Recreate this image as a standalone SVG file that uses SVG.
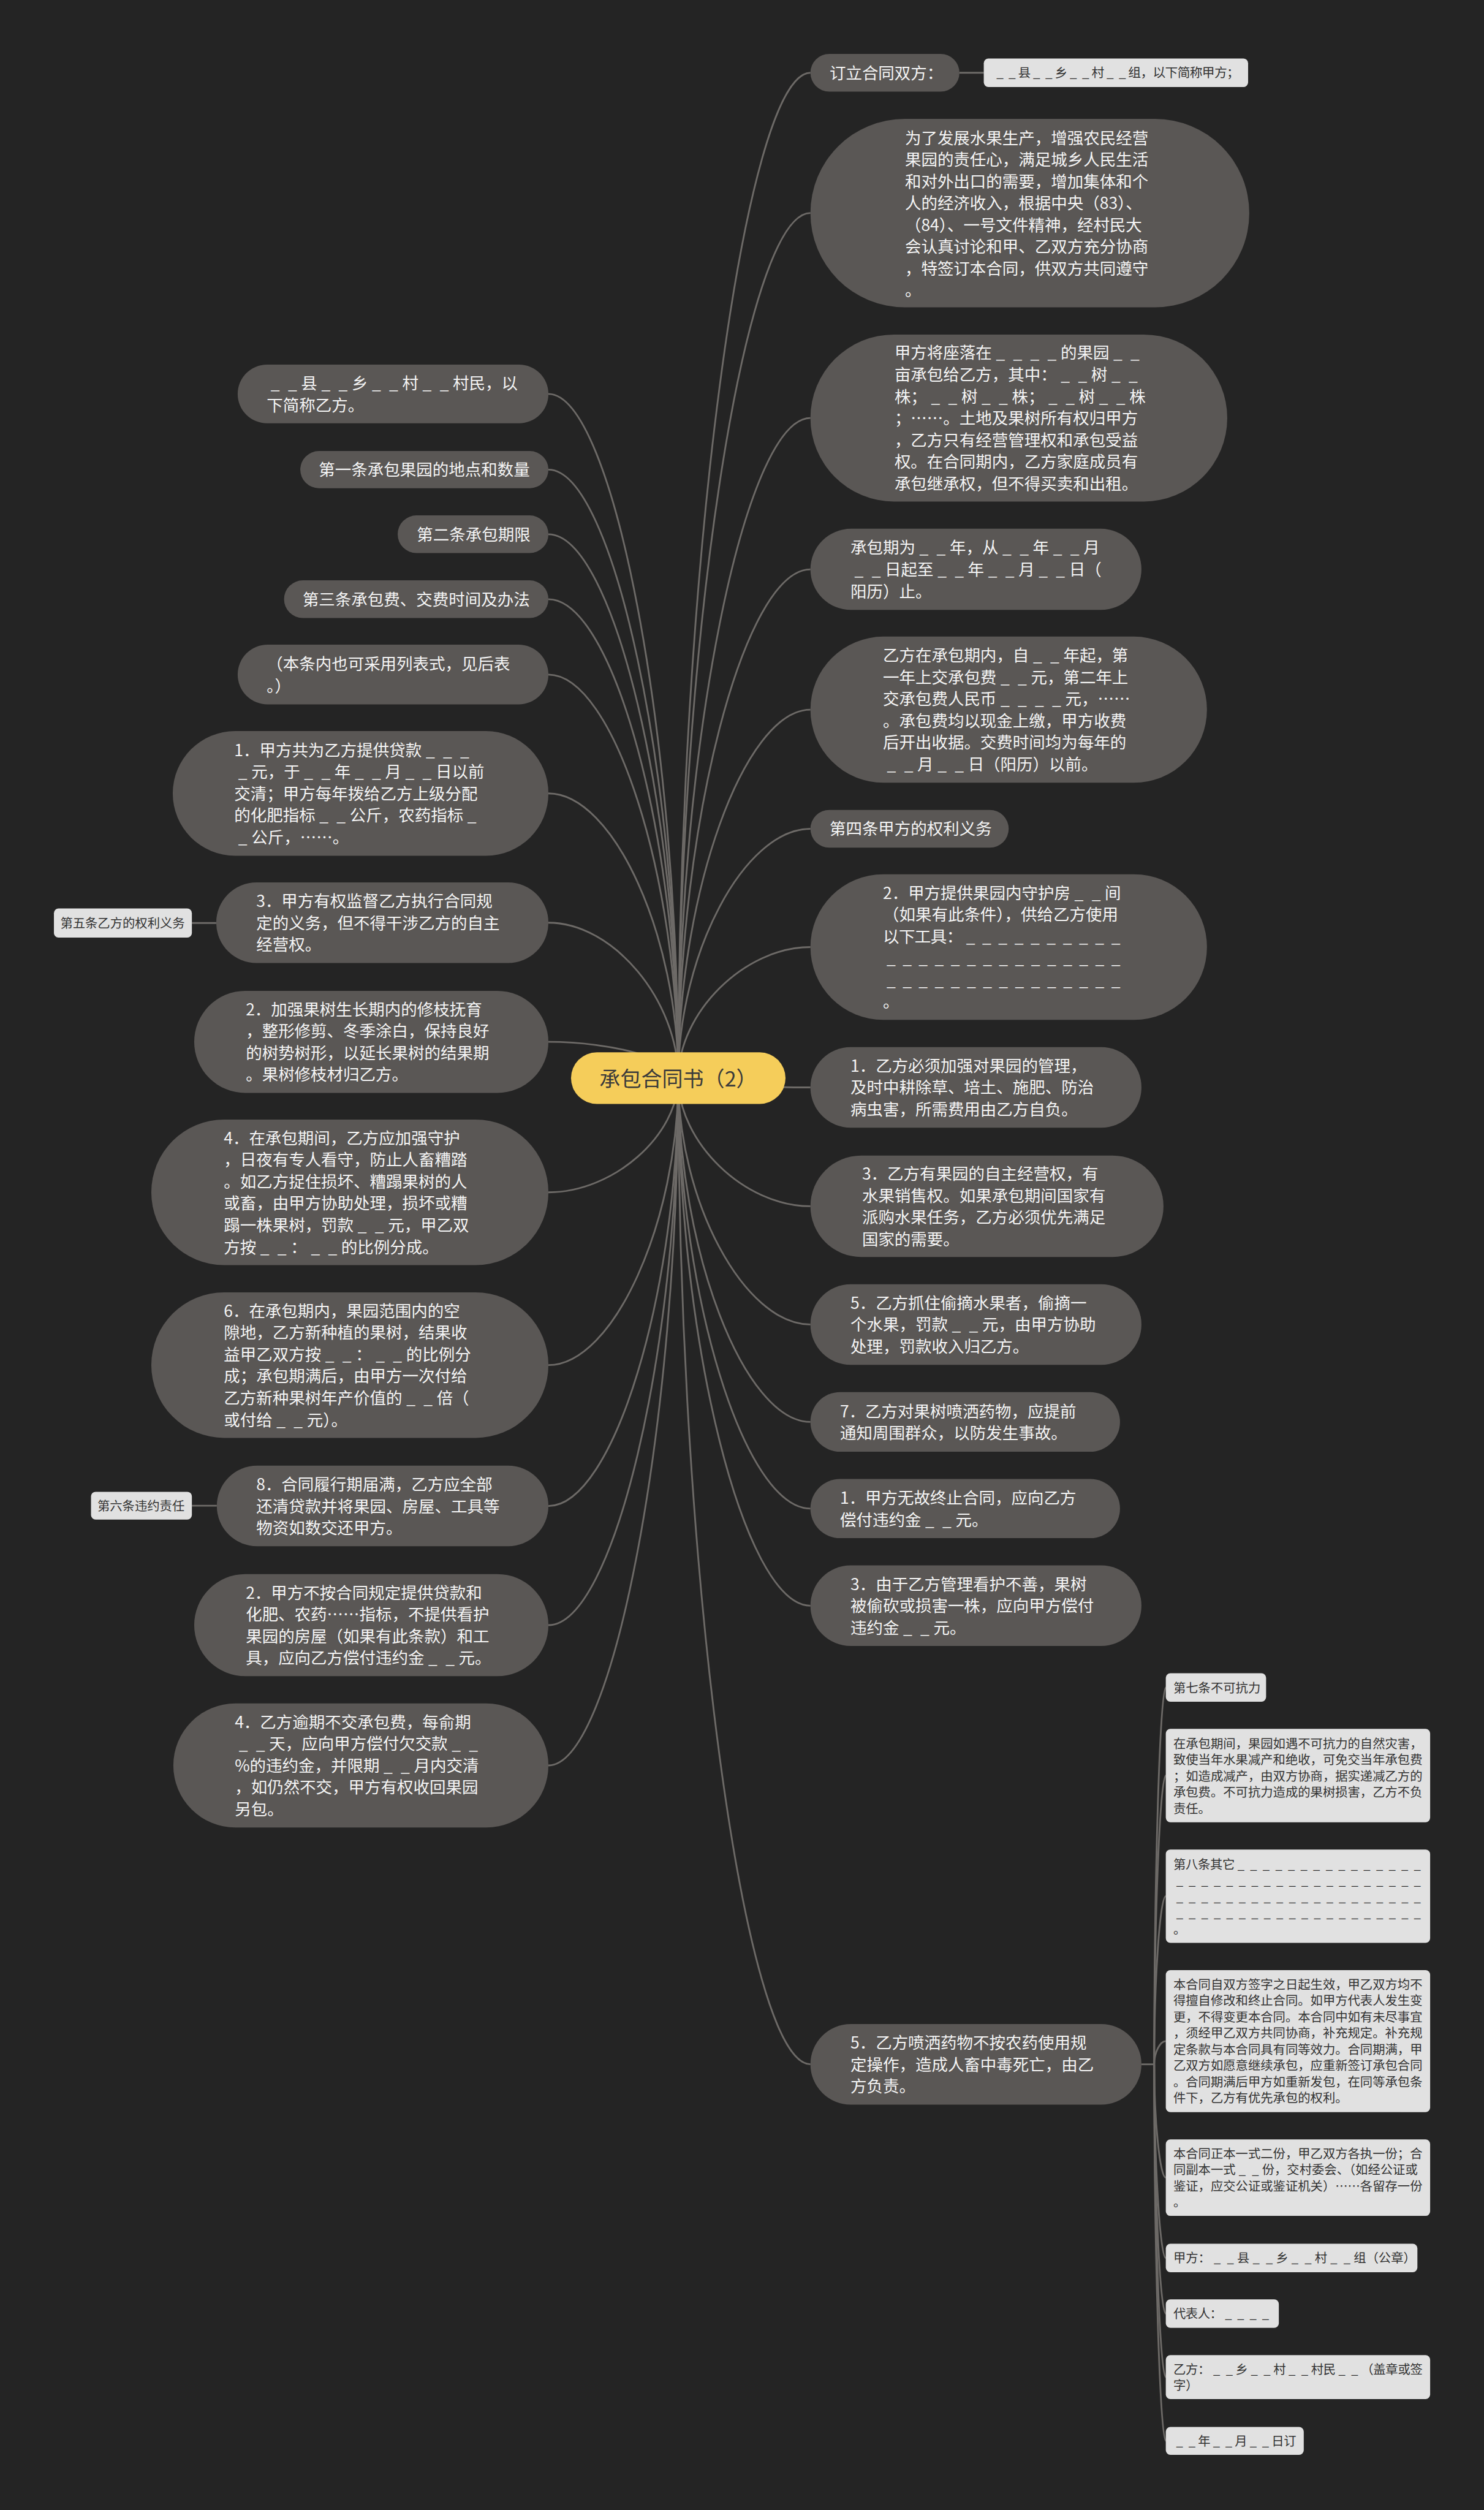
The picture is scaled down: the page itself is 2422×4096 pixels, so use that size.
<svg xmlns="http://www.w3.org/2000/svg" width="2422" height="4096" viewBox="0 0 2422 4096">
<style>
text{font-family:"Noto Sans CJK SC","Noto Sans",sans-serif}
.n rect{fill:#5a5755}
.n text{fill:#f4f4f4;font-size:28px}
.l rect{fill:#e1e1e1}
.l text{fill:#333333;font-size:21.5px}
.c rect{fill:#f5cd5a}
.c text{fill:#3a3a3a;font-size:36px}
#connectors path{fill:none;stroke:#6d6a67;stroke-width:3}
</style>
<rect width="2422" height="4096" fill="#242424"/>
<g transform="scale(0.94613)">
<g id="connectors">
<path d="M1170 1860C1170 992.8 1284 125.5 1398 125.5"/>
<path d="M1170 1860C1170 1113.8 1284 367.5 1398 367.5"/>
<path d="M1170 1860C1170 1290.5 1284 721 1398 721"/>
<path d="M1170 1860C1170 1421 1284 982 1398 982"/>
<path d="M1170 1860C1170 1542 1284 1224 1398 1224"/>
<path d="M1170 1860C1170 1644.8 1284 1429.5 1398 1429.5"/>
<path d="M1170 1860C1170 1746.8 1284 1633.5 1398 1633.5"/>
<path d="M1170 1860C1170 1867.8 1284 1875.5 1398 1875.5"/>
<path d="M1170 1860C1170 1970.3 1284 2080.5 1398 2080.5"/>
<path d="M1170 1860C1170 2072.3 1284 2284.5 1398 2284.5"/>
<path d="M1170 1860C1170 2156.3 1284 2452.5 1398 2452.5"/>
<path d="M1170 1860C1170 2231 1284 2602 1398 2602"/>
<path d="M1170 1860C1170 2314.8 1284 2769.5 1398 2769.5"/>
<path d="M1170 1860C1170 2710.3 1284 3560.5 1398 3560.5"/>
<path d="M1170 1860C1170 1269.8 1058 679.5 946 679.5"/>
<path d="M1170 1860C1170 1335 1058 810 946 810"/>
<path d="M1170 1860C1170 1390.8 1058 921.5 946 921.5"/>
<path d="M1170 1860C1170 1446.8 1058 1033.5 946 1033.5"/>
<path d="M1170 1860C1170 1511.8 1058 1163.5 946 1163.5"/>
<path d="M1170 1860C1170 1614.3 1058 1368.5 946 1368.5"/>
<path d="M1170 1860C1170 1725.8 1058 1591.5 946 1591.5"/>
<path d="M1170 1860C1170 1828.5 1058 1797 946 1797"/>
<path d="M1170 1860C1170 1958.3 1058 2056.5 946 2056.5"/>
<path d="M1170 1860C1170 2107.3 1058 2354.5 946 2354.5"/>
<path d="M1170 1860C1170 2228.8 1058 2597.5 946 2597.5"/>
<path d="M1170 1860C1170 2331.5 1058 2803 946 2803"/>
<path d="M1170 1860C1170 2452.5 1058 3045 946 3045"/>
<path d="M1655 125.5H1697"/>
<path d="M331 1592H373"/>
<path d="M331 2597H374"/>
<path d="M1969 3560.5H1991"/>
<path d="M1991 3560.5C1991 3235.5 2001 2910.5 2011 2910.5"/>
<path d="M1991 3560.5C1991 3311.5 2001 3062.5 2011 3062.5"/>
<path d="M1991 3560.5C1991 3415.5 2001 3270.5 2011 3270.5"/>
<path d="M1991 3560.5C1991 3540.5 2001 3520.5 2011 3520.5"/>
<path d="M1991 3560.5C1991 3658.3 2001 3756 2011 3756"/>
<path d="M1991 3560.5C1991 3727.5 2001 3894.5 2011 3894.5"/>
<path d="M1991 3560.5C1991 3775.5 2001 3990.5 2011 3990.5"/>
<path d="M1991 3560.5C1991 3830.3 2001 4100 2011 4100"/>
<path d="M1991 3560.5C1991 3885.3 2001 4210 2011 4210"/>
</g>

<g id="center" class="c">
<rect x="985" y="1815" width="370" height="89" rx="44.5"/>
<text x="1170" y="1873.7" text-anchor="middle">承包合同书（2）</text>
</g>

<g id="r1" class="n">
<rect x="1398" y="93" width="257" height="65" rx="32.5"/>
<text x="1431" y="136">订立合同双方：</text>
</g>
<g id="r1a" class="l">
<rect x="1697" y="101" width="456" height="49" rx="8"/>
<text x="1714" y="133.5" style="font-size:22px" textLength="424" lengthAdjust="spacing">&#x2005;_&#x2005;&#x2005;_&#x2005;县&#x2005;_&#x2005;&#x2005;_&#x2005;乡&#x2005;_&#x2005;&#x2005;_&#x2005;村&#x2005;_&#x2005;&#x2005;_&#x2005;组，以下简称甲方；</text>
</g>
<g id="r2" class="n">
<rect x="1398" y="205" width="757" height="325" rx="162.5"/>
<text>
<tspan x="1561" y="248">为了发展水果生产，增强农民经营</tspan>
<tspan x="1561" y="285.5">果园的责任心，满足城乡人民生活</tspan>
<tspan x="1561" y="323">和对外出口的需要，增加集体和个</tspan>
<tspan x="1561" y="360.5">人的经济收入，根据中央（83）、</tspan>
<tspan x="1561" y="398">（84）、一号文件精神，经村民大</tspan>
<tspan x="1561" y="435.5">会认真讨论和甲、乙双方充分协商</tspan>
<tspan x="1561" y="473">，特签订本合同，供双方共同遵守</tspan>
<tspan x="1561" y="510.5">。</tspan>
</text>
</g>
<g id="r3" class="n">
<rect x="1398" y="577" width="719" height="288" rx="144"/>
<text>
<tspan x="1543" y="618.7">甲方将座落在&#x2005;_&#x2005;&#x2005;_&#x2005;&#x2005;_&#x2005;&#x2005;_&#x2005;的果园&#x2005;_&#x2005;&#x2005;_&#x2005;</tspan>
<tspan x="1543" y="656.3">亩承包给乙方，其中：&#x2005;_&#x2005;&#x2005;_&#x2005;树&#x2005;_&#x2005;&#x2005;_&#x2005;</tspan>
<tspan x="1543" y="693.9">株；&#x2005;_&#x2005;&#x2005;_&#x2005;树&#x2005;_&#x2005;&#x2005;_&#x2005;株；&#x2005;_&#x2005;&#x2005;_&#x2005;树&#x2005;_&#x2005;&#x2005;_&#x2005;株</tspan>
<tspan x="1543" y="731.5">；……。土地及果树所有权归甲方</tspan>
<tspan x="1543" y="769.1">，乙方只有经营管理权和承包受益</tspan>
<tspan x="1543" y="806.7">权。在合同期内，乙方家庭成员有</tspan>
<tspan x="1543" y="844.3">承包继承权，但不得买卖和出租。</tspan>
</text>
</g>
<g id="r4" class="n">
<rect x="1398" y="912" width="571" height="140" rx="70"/>
<text>
<tspan x="1467" y="954.9">承包期为&#x2005;_&#x2005;&#x2005;_&#x2005;年，从&#x2005;_&#x2005;&#x2005;_&#x2005;年&#x2005;_&#x2005;&#x2005;_&#x2005;月</tspan>
<tspan x="1467" y="992.5">&#x2005;_&#x2005;&#x2005;_&#x2005;日起至&#x2005;_&#x2005;&#x2005;_&#x2005;年&#x2005;_&#x2005;&#x2005;_&#x2005;月&#x2005;_&#x2005;&#x2005;_&#x2005;日（</tspan>
<tspan x="1467" y="1030.1">阳历）止。</tspan>
</text>
</g>
<g id="r5" class="n">
<rect x="1398" y="1098" width="684" height="252" rx="126"/>
<text>
<tspan x="1523" y="1140.5">乙方在承包期内，自&#x2005;_&#x2005;&#x2005;_&#x2005;年起，第</tspan>
<tspan x="1523" y="1178.1">一年上交承包费&#x2005;_&#x2005;&#x2005;_&#x2005;元，第二年上</tspan>
<tspan x="1523" y="1215.7">交承包费人民币&#x2005;_&#x2005;&#x2005;_&#x2005;&#x2005;_&#x2005;&#x2005;_&#x2005;元，……</tspan>
<tspan x="1523" y="1253.3">。承包费均以现金上缴，甲方收费</tspan>
<tspan x="1523" y="1290.9">后开出收据。交费时间均为每年的</tspan>
<tspan x="1523" y="1328.5">&#x2005;_&#x2005;&#x2005;_&#x2005;月&#x2005;_&#x2005;&#x2005;_&#x2005;日（阳历）以前。</tspan>
</text>
</g>
<g id="r6" class="n">
<rect x="1398" y="1397" width="342" height="65" rx="32.5"/>
<text x="1431" y="1440">第四条甲方的权利义务</text>
</g>
<g id="r7" class="n">
<rect x="1398" y="1508" width="684" height="251" rx="125.5"/>
<text x="1523" y="1550">2．甲方提供果园内守护房&#x2005;_&#x2005;&#x2005;_&#x2005;间</text>
<text x="1523" y="1587.6">（如果有此条件），供给乙方使用</text>
<text x="1523" y="1625.2" textLength="416" lengthAdjust="spacing">以下工具：&#x2005;_&#x2005;&#x2005;_&#x2005;&#x2005;_&#x2005;&#x2005;_&#x2005;&#x2005;_&#x2005;&#x2005;_&#x2005;&#x2005;_&#x2005;&#x2005;_&#x2005;&#x2005;_&#x2005;&#x2005;_&#x2005;</text>
<text x="1523" y="1662.8" textLength="416" lengthAdjust="spacing">&#x2005;_&#x2005;&#x2005;_&#x2005;&#x2005;_&#x2005;&#x2005;_&#x2005;&#x2005;_&#x2005;&#x2005;_&#x2005;&#x2005;_&#x2005;&#x2005;_&#x2005;&#x2005;_&#x2005;&#x2005;_&#x2005;&#x2005;_&#x2005;&#x2005;_&#x2005;&#x2005;_&#x2005;&#x2005;_&#x2005;&#x2005;_&#x2005;</text>
<text x="1523" y="1700.4" textLength="416" lengthAdjust="spacing">&#x2005;_&#x2005;&#x2005;_&#x2005;&#x2005;_&#x2005;&#x2005;_&#x2005;&#x2005;_&#x2005;&#x2005;_&#x2005;&#x2005;_&#x2005;&#x2005;_&#x2005;&#x2005;_&#x2005;&#x2005;_&#x2005;&#x2005;_&#x2005;&#x2005;_&#x2005;&#x2005;_&#x2005;&#x2005;_&#x2005;&#x2005;_&#x2005;</text>
<text x="1523" y="1738">。</text>
</g>
<g id="r8" class="n">
<rect x="1398" y="1806" width="571" height="139" rx="69.5"/>
<text>
<tspan x="1467" y="1848.4">1．乙方必须加强对果园的管理，</tspan>
<tspan x="1467" y="1886">及时中耕除草、培土、施肥、防治</tspan>
<tspan x="1467" y="1923.6">病虫害，所需费用由乙方自负。</tspan>
</text>
</g>
<g id="r9" class="n">
<rect x="1398" y="1993" width="609" height="175" rx="87.5"/>
<text>
<tspan x="1487" y="2034.6">3．乙方有果园的自主经营权，有</tspan>
<tspan x="1487" y="2072.2">水果销售权。如果承包期间国家有</tspan>
<tspan x="1487" y="2109.8">派购水果任务，乙方必须优先满足</tspan>
<tspan x="1487" y="2147.4">国家的需要。</tspan>
</text>
</g>
<g id="r10" class="n">
<rect x="1398" y="2215" width="571" height="139" rx="69.5"/>
<text>
<tspan x="1467" y="2257.4">5．乙方抓住偷摘水果者，偷摘一</tspan>
<tspan x="1467" y="2295">个水果，罚款&#x2005;_&#x2005;&#x2005;_&#x2005;元，由甲方协助</tspan>
<tspan x="1467" y="2332.6">处理，罚款收入归乙方。</tspan>
</text>
</g>
<g id="r11" class="n">
<rect x="1398" y="2401" width="534" height="103" rx="51.5"/>
<text>
<tspan x="1449" y="2444.2">7．乙方对果树喷洒药物，应提前</tspan>
<tspan x="1449" y="2481.8">通知周围群众，以防发生事故。</tspan>
</text>
</g>
<g id="r12" class="n">
<rect x="1398" y="2551" width="534" height="102" rx="51"/>
<text>
<tspan x="1449" y="2593.7">1．甲方无故终止合同，应向乙方</tspan>
<tspan x="1449" y="2631.3">偿付违约金&#x2005;_&#x2005;&#x2005;_&#x2005;元。</tspan>
</text>
</g>
<g id="r13" class="n">
<rect x="1398" y="2700" width="571" height="139" rx="69.5"/>
<text>
<tspan x="1467" y="2742.4">3．由于乙方管理看护不善，果树</tspan>
<tspan x="1467" y="2780">被偷砍或损害一株，应向甲方偿付</tspan>
<tspan x="1467" y="2817.6">违约金&#x2005;_&#x2005;&#x2005;_&#x2005;元。</tspan>
</text>
</g>
<g id="r14" class="n">
<rect x="1398" y="3491" width="571" height="139" rx="69.5"/>
<text>
<tspan x="1467" y="3533.4">5．乙方喷洒药物不按农药使用规</tspan>
<tspan x="1467" y="3571">定操作，造成人畜中毒死亡，由乙</tspan>
<tspan x="1467" y="3608.6">方负责。</tspan>
</text>
</g>

<g id="l1" class="n">
<rect x="410" y="629" width="536" height="101" rx="50.5"/>
<text>
<tspan x="460" y="671.2">&#x2005;_&#x2005;&#x2005;_&#x2005;县&#x2005;_&#x2005;&#x2005;_&#x2005;乡&#x2005;_&#x2005;&#x2005;_&#x2005;村&#x2005;_&#x2005;&#x2005;_&#x2005;村民，以</tspan>
<tspan x="460" y="708.8">下简称乙方。</tspan>
</text>
</g>
<g id="l2" class="n">
<rect x="518" y="778" width="428" height="64" rx="32"/>
<text x="550" y="820.5">第一条承包果园的地点和数量</text>
</g>
<g id="l3" class="n">
<rect x="686" y="889" width="260" height="65" rx="32.5"/>
<text x="719" y="932">第二条承包期限</text>
</g>
<g id="l4" class="n">
<rect x="490" y="1001" width="456" height="65" rx="32.5"/>
<text x="522" y="1044">第三条承包费、交费时间及办法</text>
</g>
<g id="l5" class="n">
<rect x="410" y="1112" width="536" height="103" rx="51.5"/>
<text>
<tspan x="460" y="1155.2">（本条内也可采用列表式，见后表</tspan>
<tspan x="460" y="1192.8">。）</tspan>
</text>
</g>
<g id="l6" class="n">
<rect x="298" y="1261" width="648" height="215" rx="107.5"/>
<text>
<tspan x="404" y="1303.8">1．甲方共为乙方提供贷款&#x2005;_&#x2005;&#x2005;_&#x2005;&#x2005;_&#x2005;</tspan>
<tspan x="404" y="1341.4">&#x2005;_&#x2005;元，于&#x2005;_&#x2005;&#x2005;_&#x2005;年&#x2005;_&#x2005;&#x2005;_&#x2005;月&#x2005;_&#x2005;&#x2005;_&#x2005;日以前</tspan>
<tspan x="404" y="1379">交清；甲方每年拨给乙方上级分配</tspan>
<tspan x="404" y="1416.6">的化肥指标&#x2005;_&#x2005;&#x2005;_&#x2005;公斤，农药指标&#x2005;_&#x2005;</tspan>
<tspan x="404" y="1454.2">&#x2005;_&#x2005;公斤，……。</tspan>
</text>
</g>
<g id="l7" class="l">
<rect x="93" y="1567" width="238" height="50" rx="8"/>
<text x="104" y="1600.2">第五条乙方的权利义务</text>
</g>
<g id="l8" class="n">
<rect x="373" y="1522" width="573" height="139" rx="69.5"/>
<text>
<tspan x="442" y="1564.4">3．甲方有权监督乙方执行合同规</tspan>
<tspan x="442" y="1602">定的义务，但不得干涉乙方的自主</tspan>
<tspan x="442" y="1639.6">经营权。</tspan>
</text>
</g>
<g id="l9" class="n">
<rect x="335" y="1709" width="611" height="176" rx="88"/>
<text>
<tspan x="424" y="1751.1">2．加强果树生长期内的修枝抚育</tspan>
<tspan x="424" y="1788.7">，整形修剪、冬季涂白，保持良好</tspan>
<tspan x="424" y="1826.3">的树势树形，以延长果树的结果期</tspan>
<tspan x="424" y="1863.9">。果树修枝材归乙方。</tspan>
</text>
</g>
<g id="l10" class="n">
<rect x="261" y="1931" width="685" height="251" rx="125.5"/>
<text>
<tspan x="386" y="1973">4．在承包期间，乙方应加强守护</tspan>
<tspan x="386" y="2010.6">，日夜有专人看守，防止人畜糟踏</tspan>
<tspan x="386" y="2048.2">。如乙方捉住损坏、糟蹋果树的人</tspan>
<tspan x="386" y="2085.8">或畜，由甲方协助处理，损坏或糟</tspan>
<tspan x="386" y="2123.4">蹋一株果树，罚款&#x2005;_&#x2005;&#x2005;_&#x2005;元，甲乙双</tspan>
<tspan x="386" y="2161">方按&#x2005;_&#x2005;&#x2005;_&#x2005;：&#x2005;_&#x2005;&#x2005;_&#x2005;的比例分成。</tspan>
</text>
</g>
<g id="l11" class="n">
<rect x="261" y="2229" width="685" height="251" rx="125.5"/>
<text>
<tspan x="386" y="2271">6．在承包期内，果园范围内的空</tspan>
<tspan x="386" y="2308.6">隙地，乙方新种植的果树，结果收</tspan>
<tspan x="386" y="2346.2">益甲乙双方按&#x2005;_&#x2005;&#x2005;_&#x2005;：&#x2005;_&#x2005;&#x2005;_&#x2005;的比例分</tspan>
<tspan x="386" y="2383.8">成；承包期满后，由甲方一次付给</tspan>
<tspan x="386" y="2421.4">乙方新种果树年产价值的&#x2005;_&#x2005;&#x2005;_&#x2005;倍（</tspan>
<tspan x="386" y="2459">或付给&#x2005;_&#x2005;&#x2005;_&#x2005;元）。</tspan>
</text>
</g>
<g id="l12" class="l">
<rect x="157" y="2573" width="174" height="48" rx="8"/>
<text x="168" y="2605.2">第六条违约责任</text>
</g>
<g id="l13" class="n">
<rect x="374" y="2528" width="572" height="139" rx="69.5"/>
<text>
<tspan x="442" y="2570.4">8．合同履行期届满，乙方应全部</tspan>
<tspan x="442" y="2608">还清贷款并将果园、房屋、工具等</tspan>
<tspan x="442" y="2645.6">物资如数交还甲方。</tspan>
</text>
</g>
<g id="l14" class="n">
<rect x="335" y="2715" width="611" height="176" rx="88"/>
<text>
<tspan x="424" y="2757.1">2．甲方不按合同规定提供贷款和</tspan>
<tspan x="424" y="2794.7">化肥、农药……指标，不提供看护</tspan>
<tspan x="424" y="2832.3">果园的房屋（如果有此条款）和工</tspan>
<tspan x="424" y="2869.9">具，应向乙方偿付违约金&#x2005;_&#x2005;&#x2005;_&#x2005;元。</tspan>
</text>
</g>
<g id="l15" class="n">
<rect x="299" y="2938" width="647" height="214" rx="107"/>
<text>
<tspan x="405" y="2980.3">4．乙方逾期不交承包费，每俞期</tspan>
<tspan x="405" y="3017.9">&#x2005;_&#x2005;&#x2005;_&#x2005;天，应向甲方偿付欠交款&#x2005;_&#x2005;&#x2005;_&#x2005;</tspan>
<tspan x="405" y="3055.5">%的违约金，并限期&#x2005;_&#x2005;&#x2005;_&#x2005;月内交清</tspan>
<tspan x="405" y="3093.1">，如仍然不交，甲方有权收回果园</tspan>
<tspan x="405" y="3130.7">另包。</tspan>
</text>
</g>

<g id="b1" class="l">
<rect x="2011" y="2886" width="173" height="49" rx="8"/>
<text x="2024" y="2919.2">第七条不可抗力</text>
</g>
<g id="b2" class="l">
<rect x="2011" y="2982" width="456" height="161" rx="8"/>
<text>
<tspan x="2024" y="3015.2">在承包期间，果园如遇不可抗力的自然灾害，</tspan>
<tspan x="2024" y="3043.2">致使当年水果减产和绝收，可免交当年承包费</tspan>
<tspan x="2024" y="3071.2">；如造成减产，由双方协商，据实递减乙方的</tspan>
<tspan x="2024" y="3099.2">承包费。不可抗力造成的果树损害，乙方不负</tspan>
<tspan x="2024" y="3127.2">责任。</tspan>
</text>
</g>
<g id="b3" class="l">
<rect x="2011" y="3190" width="456" height="161" rx="8"/>
<text x="2024" y="3223.2" textLength="432" lengthAdjust="spacing">第八条其它&#x2005;_&#x2005;&#x2005;_&#x2005;&#x2005;_&#x2005;&#x2005;_&#x2005;&#x2005;_&#x2005;&#x2005;_&#x2005;&#x2005;_&#x2005;&#x2005;_&#x2005;&#x2005;_&#x2005;&#x2005;_&#x2005;&#x2005;_&#x2005;&#x2005;_&#x2005;&#x2005;_&#x2005;&#x2005;_&#x2005;&#x2005;_&#x2005;</text>
<text x="2024" y="3251.2" textLength="432" lengthAdjust="spacing">&#x2005;_&#x2005;&#x2005;_&#x2005;&#x2005;_&#x2005;&#x2005;_&#x2005;&#x2005;_&#x2005;&#x2005;_&#x2005;&#x2005;_&#x2005;&#x2005;_&#x2005;&#x2005;_&#x2005;&#x2005;_&#x2005;&#x2005;_&#x2005;&#x2005;_&#x2005;&#x2005;_&#x2005;&#x2005;_&#x2005;&#x2005;_&#x2005;&#x2005;_&#x2005;&#x2005;_&#x2005;&#x2005;_&#x2005;&#x2005;_&#x2005;&#x2005;_&#x2005;</text>
<text x="2024" y="3279.2" textLength="432" lengthAdjust="spacing">&#x2005;_&#x2005;&#x2005;_&#x2005;&#x2005;_&#x2005;&#x2005;_&#x2005;&#x2005;_&#x2005;&#x2005;_&#x2005;&#x2005;_&#x2005;&#x2005;_&#x2005;&#x2005;_&#x2005;&#x2005;_&#x2005;&#x2005;_&#x2005;&#x2005;_&#x2005;&#x2005;_&#x2005;&#x2005;_&#x2005;&#x2005;_&#x2005;&#x2005;_&#x2005;&#x2005;_&#x2005;&#x2005;_&#x2005;&#x2005;_&#x2005;&#x2005;_&#x2005;</text>
<text x="2024" y="3307.2" textLength="432" lengthAdjust="spacing">&#x2005;_&#x2005;&#x2005;_&#x2005;&#x2005;_&#x2005;&#x2005;_&#x2005;&#x2005;_&#x2005;&#x2005;_&#x2005;&#x2005;_&#x2005;&#x2005;_&#x2005;&#x2005;_&#x2005;&#x2005;_&#x2005;&#x2005;_&#x2005;&#x2005;_&#x2005;&#x2005;_&#x2005;&#x2005;_&#x2005;&#x2005;_&#x2005;&#x2005;_&#x2005;&#x2005;_&#x2005;&#x2005;_&#x2005;&#x2005;_&#x2005;&#x2005;_&#x2005;</text>
<text x="2024" y="3335.2">。</text>
</g>
<g id="b4" class="l">
<rect x="2011" y="3398" width="456" height="245" rx="8"/>
<text>
<tspan x="2024" y="3430.7">本合同自双方签字之日起生效，甲乙双方均不</tspan>
<tspan x="2024" y="3458.7">得擅自修改和终止合同。如甲方代表人发生变</tspan>
<tspan x="2024" y="3486.7">更，不得变更本合同。本合同中如有未尽事宜</tspan>
<tspan x="2024" y="3514.7">，须经甲乙双方共同协商，补充规定。补充规</tspan>
<tspan x="2024" y="3542.7">定条款与本合同具有同等效力。合同期满，甲</tspan>
<tspan x="2024" y="3570.7">乙双方如愿意继续承包，应重新签订承包合同</tspan>
<tspan x="2024" y="3598.7">。合同期满后甲方如重新发包，在同等承包条</tspan>
<tspan x="2024" y="3626.7">件下，乙方有优先承包的权利。</tspan>
</text>
</g>
<g id="b5" class="l">
<rect x="2011" y="3690" width="456" height="132" rx="8"/>
<text>
<tspan x="2024" y="3722.2">本合同正本一式二份，甲乙双方各执一份；合</tspan>
<tspan x="2024" y="3750.2">同副本一式&#x2005;_&#x2005;&#x2005;_&#x2005;份，交村委会、（如经公证或</tspan>
<tspan x="2024" y="3778.2">鉴证，应交公证或鉴证机关）……各留存一份</tspan>
<tspan x="2024" y="3806.2">。</tspan>
</text>
</g>
<g id="b6" class="l">
<rect x="2011" y="3870" width="434" height="49" rx="8"/>
<text x="2024" y="3902.7">甲方：&#x2005;_&#x2005;&#x2005;_&#x2005;县&#x2005;_&#x2005;&#x2005;_&#x2005;乡&#x2005;_&#x2005;&#x2005;_&#x2005;村&#x2005;_&#x2005;&#x2005;_&#x2005;组（公章）</text>
</g>
<g id="b7" class="l">
<rect x="2011" y="3966" width="195" height="49" rx="8"/>
<text x="2024" y="3998.7" textLength="170" lengthAdjust="spacing">代表人：&#x2005;_&#x2005;&#x2005;_&#x2005;&#x2005;_&#x2005;&#x2005;_&#x2005;</text>
</g>
<g id="b8" class="l">
<rect x="2011" y="4062" width="456" height="76" rx="8"/>
<text x="2024" y="4094.2" textLength="430" lengthAdjust="spacing">乙方：&#x2005;_&#x2005;&#x2005;_&#x2005;乡&#x2005;_&#x2005;&#x2005;_&#x2005;村&#x2005;_&#x2005;&#x2005;_&#x2005;村民&#x2005;_&#x2005;&#x2005;_&#x2005;（盖章或签</text>
<text x="2024" y="4122.2">字）</text>
</g>
<g id="b9" class="l">
<rect x="2011" y="4186" width="238" height="48" rx="8"/>
<text x="2024" y="4218.2" textLength="212" lengthAdjust="spacing">&#x2005;_&#x2005;&#x2005;_&#x2005;年&#x2005;_&#x2005;&#x2005;_&#x2005;月&#x2005;_&#x2005;&#x2005;_&#x2005;日订</text>
</g>
</g>
</svg>
